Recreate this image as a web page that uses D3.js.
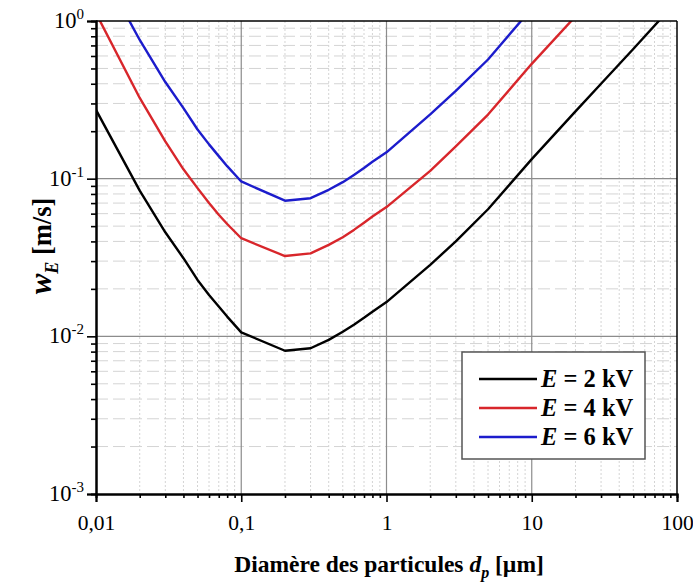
<!DOCTYPE html>
<html>
<head>
<meta charset="utf-8">
<script src="https://cdn.jsdelivr.net/npm/d3@7"></script>
<style>
    body { margin: 0; background: #fff; }
    text { font-family: "Liberation Serif", "Times New Roman", serif; }
</style>
</head>
<body>
<svg width="693" height="583"></svg>
<script>
// particle diameters [µm] and electric drift velocity w_E [m/s]
const diameters = [0.01, 0.02, 0.03, 0.04, 0.05, 0.06, 0.07, 0.08, 0.1,
    0.2, 0.3, 0.4, 0.5, 0.6, 0.7, 0.8, 1, 2, 3, 5, 10, 20, 30, 50, 100];
const wE2kV = [0.273, 0.0839, 0.0457, 0.0313, 0.0228, 0.0183, 0.01545, 0.01334, 0.0106,
    0.0081, 0.0084, 0.0095, 0.0107, 0.0119, 0.0131, 0.0143, 0.0165, 0.0284, 0.040, 0.064,
    0.133, 0.267, 0.40, 0.664, 1.34];
const wE4kV = [1.12, 0.325, 0.1726, 0.1146, 0.0871, 0.070, 0.059, 0.0516, 0.0419,
    0.0323, 0.0336, 0.038, 0.0425, 0.0475, 0.0525, 0.0575, 0.066, 0.112, 0.16, 0.255,
    0.535, 1.07, 1.6, 2.66, 5.4];
const wE6kV = [2.45, 0.758, 0.41, 0.28, 0.205, 0.165, 0.139, 0.12, 0.096,
    0.0725, 0.0752, 0.085, 0.095, 0.106, 0.117, 0.128, 0.147, 0.256, 0.36, 0.57,
    1.2, 2.4, 3.6, 6.0, 12.0];
const seriesNames = ["2", "4", "6"];
const seriesColors = ["#000000", "#d8262b", "#1c1ccc"];

const xTicks = [0.01, 0.1, 1, 10, 100];
const xTickLabels = ["0,01", "0,1", "1", "10", "100"];
const yTicks = [1e-3, 1e-2, 1e-1, 1];
const yExponents = ["-3", "-2", "-1", "0"];

const svg = d3.select("svg"),
    margin = {top: 21, right: 16, bottom: 89, left: 96},
    width = +svg.attr("width") - margin.left - margin.right,
    height = +svg.attr("height") - margin.top - margin.bottom;

const x = d3.scaleLog().domain([0.01, 100]).range([0, width]);
const y = d3.scaleLog().domain([1e-3, 1]).range([height, 0]);

// minor values k*10^n
function minors(lo, hi) {
    const out = [];
    for (let e = Math.log10(lo); e < Math.log10(hi); e++) {
        for (let k = 2; k <= 9; k++) {
            out.push(k * Math.pow(10, e));
        }
    }
    return out;
}
const xMinor = minors(0.01, 100);
const yMinor = minors(1e-3, 1);

const g = svg.append("g").attr("transform", `translate(${margin.left},${margin.top})`);

// grid
g.append("g").selectAll("line").data(xMinor).enter().append("line")
    .attr("x1", d => x(d)).attr("x2", d => x(d))
    .attr("y1", 0).attr("y2", height)
    .attr("stroke", "#d4d4d4").attr("stroke-width", 1)
    .attr("stroke-dasharray", "2,2");
g.append("g").selectAll("line").data(yMinor).enter().append("line")
    .attr("y1", d => y(d)).attr("y2", d => y(d))
    .attr("x1", 0).attr("x2", width)
    .attr("stroke", "#d4d4d4").attr("stroke-width", 1)
    .attr("stroke-dasharray", "12,5");
g.append("g").selectAll("line").data(xTicks.slice(1, -1)).enter().append("line")
    .attr("x1", d => x(d)).attr("x2", d => x(d))
    .attr("y1", 0).attr("y2", height)
    .attr("stroke", "#8c8c8c").attr("stroke-width", 1.2);
g.append("g").selectAll("line").data(yTicks.slice(1, -1)).enter().append("line")
    .attr("y1", d => y(d)).attr("y2", d => y(d))
    .attr("x1", 0).attr("x2", width)
    .attr("stroke", "#8c8c8c").attr("stroke-width", 1.2);

// curves
g.append("clipPath").attr("id", "clip")
    .append("rect").attr("width", width).attr("height", height);

const series = [wE2kV, wE4kV, wE6kV].map((vals, i) => ({
    name: seriesNames[i],
    color: seriesColors[i],
    points: diameters.map((d, j) => ({d: d, w: vals[j]}))
}));

const line = d3.line()
    .x(p => x(p.d))
    .y(p => y(p.w));

g.append("g").attr("clip-path", "url(#clip)")
    .selectAll("path").data(series).enter().append("path")
    .attr("d", s => line(s.points))
    .attr("fill", "none")
    .attr("stroke", s => s.color)
    .attr("stroke-width", 2.4)
    .attr("stroke-linejoin", "round");

// frame
g.append("line").attr("x1", 0).attr("x2", width).attr("y1", 0).attr("y2", 0)
    .attr("stroke", "#000").attr("stroke-width", 1.5);
g.append("line").attr("x1", width).attr("x2", width).attr("y1", 0).attr("y2", height)
    .attr("stroke", "#000").attr("stroke-width", 1.5);

// axes
const xAxisMinor = g.append("g").attr("transform", `translate(0,${height})`)
    .call(d3.axisBottom(x).tickValues(xMinor).tickSize(4).tickFormat(""));
const xAxis = g.append("g").attr("transform", `translate(0,${height})`)
    .call(d3.axisBottom(x).tickValues(xTicks).tickSize(8).tickPadding(13)
        .tickFormat((d, i) => xTickLabels[i]));
const yAxisMinor = g.append("g")
    .call(d3.axisLeft(y).tickValues(yMinor).tickSize(5).tickFormat(""));
const yAxis = g.append("g")
    .call(d3.axisLeft(y).tickValues(yTicks).tickSize(9).tickFormat(""));

[xAxisMinor, xAxis, yAxisMinor, yAxis].forEach(a => {
    a.select(".domain").attr("stroke", "#000").attr("stroke-width", 2);
    a.selectAll(".tick line").attr("stroke", "#000").attr("stroke-width", 1.6);
});
xAxis.selectAll("text")
    .attr("font-family", "Liberation Serif, serif")
    .attr("font-size", 21.5).attr("fill", "#000");

// y labels with superscripts
const yLab = g.append("g").selectAll("text").data(yTicks).enter().append("text")
    .attr("x", -12)
    .attr("y", d => y(d) + 7)
    .attr("text-anchor", "end")
    .attr("font-size", 22.5);
yLab.append("tspan").text("10");
yLab.append("tspan").attr("font-size", 15).attr("dy", -9)
    .text((d, i) => yExponents[i]);

// axis titles
const xTitle = svg.append("text")
    .attr("x", 389)
    .attr("y", 572)
    .attr("text-anchor", "middle")
    .attr("font-size", 23.5).attr("font-weight", "bold");
xTitle.append("tspan").text("Diamère des particules ");
xTitle.append("tspan").attr("font-style", "italic").text("d");
xTitle.append("tspan").attr("font-style", "italic").attr("font-size", 16)
    .attr("dy", 6).text("p");
xTitle.append("tspan").attr("dy", -6).text(" [µm]");

const yTitle = svg.append("text")
    .attr("transform", "translate(51,246) rotate(-90)")
    .attr("text-anchor", "middle")
    .attr("font-size", 26.5).attr("font-weight", "bold");
yTitle.append("tspan").attr("font-style", "italic").attr("font-size", 31).text("w");
yTitle.append("tspan").attr("font-style", "italic").attr("font-size", 18)
    .attr("dy", 7).text("E");
yTitle.append("tspan").attr("dy", -7).text(" [m/s]");

// legend
const legend = svg.append("g").attr("transform", "translate(462,352)");
legend.append("rect")
    .attr("width", 183).attr("height", 107)
    .attr("fill", "#fff").attr("stroke", "#555").attr("stroke-width", 1.5);
const item = legend.selectAll("g.item").data(series).enter().append("g")
    .attr("class", "item")
    .attr("transform", (s, i) => `translate(0,${27 + i * 29})`);
item.append("line")
    .attr("x1", 17).attr("x2", 75)
    .attr("stroke", s => s.color).attr("stroke-width", 2.4);
const itemText = item.append("text")
    .attr("x", 79).attr("y", 8)
    .attr("font-size", 24.5).attr("font-weight", "bold");
itemText.append("tspan").attr("font-style", "italic").text("E");
itemText.append("tspan").text(s => " = " + s.name + " kV");
</script>
</body>
</html>
